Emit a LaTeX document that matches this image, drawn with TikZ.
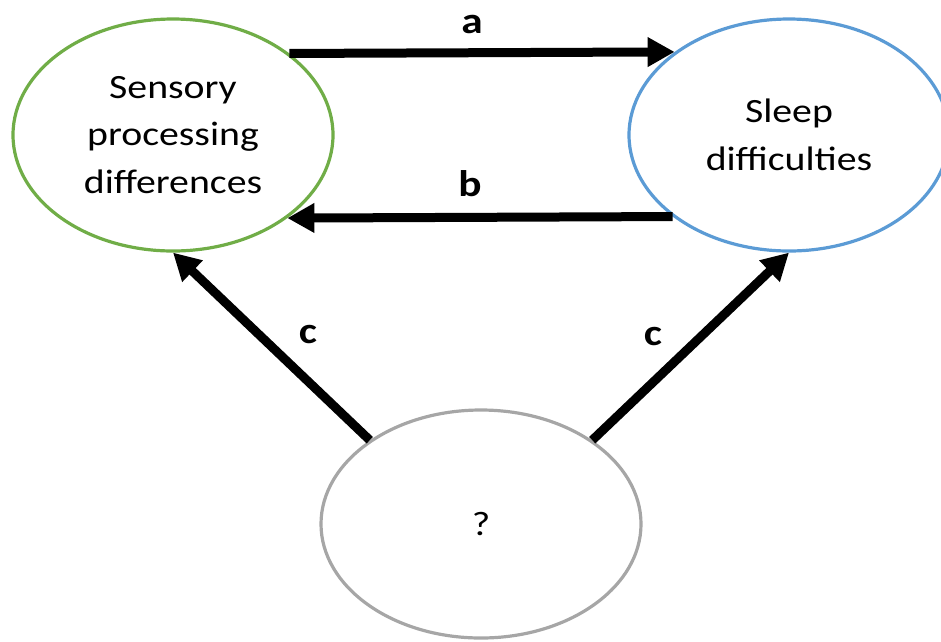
\documentclass[tikz,border=0pt]{standalone}
\usepackage{fontspec}
\setmainfont{Carlito}[FakeStretch=1.17]
\usetikzlibrary{arrows.meta,shapes.geometric}
\definecolor{ovalgreen}{HTML}{70AD47}
\definecolor{ovalblue}{HTML}{5B9BD5}
\definecolor{ovalgray}{HTML}{A6A6A6}
\tikzset{
  oval/.style={ellipse, draw, line width=3.2pt, minimum width=320pt,
    minimum height=232pt, inner sep=0pt, align=center,
    font=\fontsize{34}{47.5}\selectfont},
  bigarrow/.style={line width=9pt, -{Triangle[length=27pt,width=28pt]}},
  pathlabel/.style={font=\fontsize{37}{40}\selectfont\bfseries}
}
\begin{document}
\begin{tikzpicture}[x=1pt,y=-1pt]
  \useasboundingbox (0,0) rectangle (941,641);

  % the three constructs
  \node[oval, draw=ovalgreen] (sp) at (173,135) {Sensory\\processing\\differences};
  \node[oval, draw=ovalblue]  (sl) at (789,135) {Sleep\\difficulties};
  \node[oval, draw=ovalgray, minimum height=228pt] (q) at (481,524) {?};

  % directional paths between them
  \draw[bigarrow] (sp.35.4) -- (sl.144.6);
  \draw[bigarrow] (sl.215.4) -- (sp.324.6);
  \draw[bigarrow] (q.143) -- (sp.south);
  \draw[bigarrow] (q.37) -- (sl.south);

  % path labels
  \node[pathlabel] (la) at (472,24) {a};
  \node[pathlabel] (lb) at (470,184) {b};
  \node[pathlabel] (lc1) at (308,335) {c};
  \node[pathlabel] (lc2) at (653,337) {c};
\end{tikzpicture}
\end{document}
